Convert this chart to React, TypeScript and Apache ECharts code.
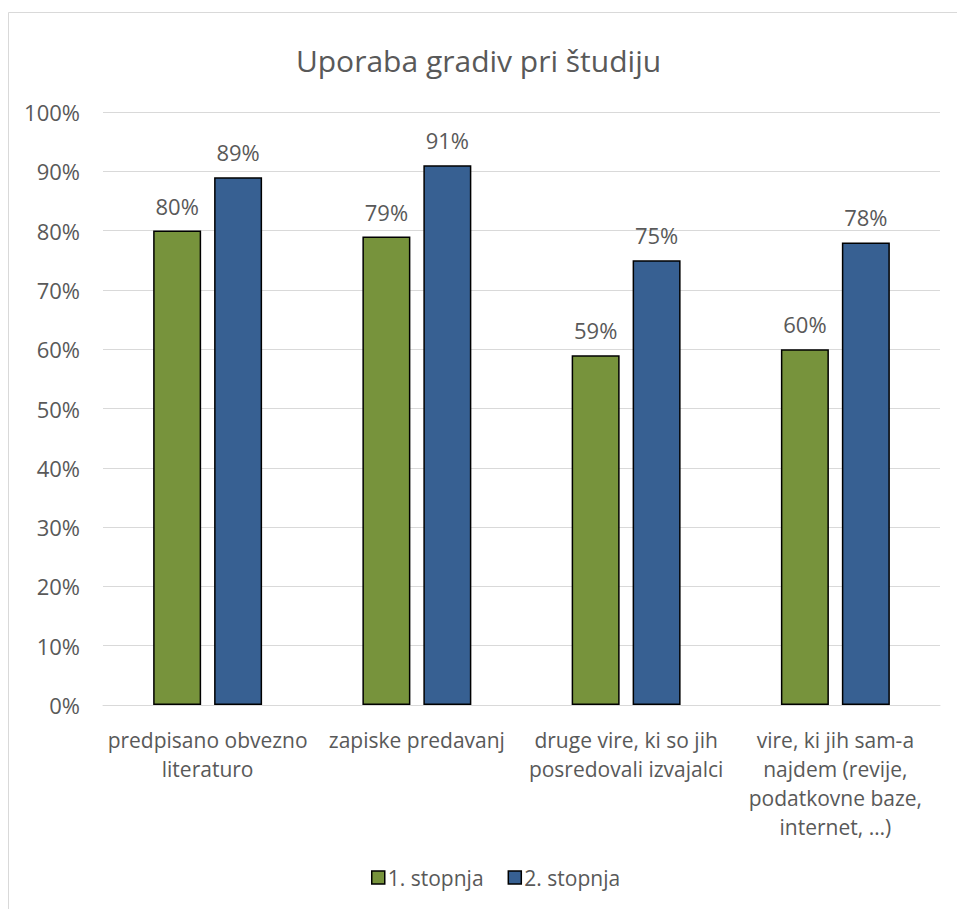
import React, { useEffect, useRef } from "react";
import * as echarts from "echarts";

const titleText = "Uporaba gradiv pri študiju";
const categories = [
  "predpisano obvezno\nliteraturo",
  "zapiske predavanj",
  "druge vire, ki so jih\nposredovali izvajalci",
  "vire, ki jih sam-a\nnajdem (revije,\npodatkovne baze,\ninternet, …)",
];
const seriesNames = ["1. stopnja", "2. stopnja"];
const stopnja1 = [0.8, 0.79, 0.59, 0.6];
const stopnja2 = [0.89, 0.91, 0.75, 0.78];
const colors = ["#77933C", "#376092"];

const FONT = "'Open Sans', 'Noto Sans', sans-serif";
const TEXT = "#595959";

export default function App() {
  const ref = useRef<HTMLDivElement>(null);
  useEffect(() => {
    document.body.style.margin = "0";
    if (!ref.current) return;
    const chart = echarts.init(ref.current, null, { renderer: "svg" });
    const pct = (v: number) => Math.round(v * 100) + "%";
    chart.setOption({
      animation: false,
      backgroundColor: "#ffffff",
      textStyle: { fontFamily: FONT },
      title: {
        text: titleText,
        left: "center",
        top: 40,
        textStyle: { fontFamily: FONT, fontSize: 30, fontWeight: "normal", color: TEXT },
      },
      graphic: [
        {
          type: "rect",
          shape: { x: 8.5, y: 12.5, width: 980, height: 940 },
          style: { fill: "none", stroke: "#d9d9d9", lineWidth: 1 },
          silent: true,
        },
      ],
      grid: { left: 103, right: 17, top: 112, bottom: 204 },
      legend: {
        data: seriesNames,
        top: 862,
        left: 366,
        icon: "rect",
        itemWidth: 13,
        itemHeight: 13,
        itemGap: 24,
        textStyle: { fontFamily: FONT, fontSize: 21, color: TEXT, padding: [0, 0, 0, -2] },
        itemStyle: { borderColor: "#000", borderWidth: 1.5 },
      },
      xAxis: {
        type: "category",
        data: categories,
        axisLine: { show: true, lineStyle: { color: "#d9d9d9", width: 1 } },
        axisTick: { show: false },
        axisLabel: {
          interval: 0,
          fontFamily: FONT,
          fontSize: 21,
          color: TEXT,
          lineHeight: 29,
          margin: 20,
        },
      },
      yAxis: {
        type: "value",
        min: 0,
        max: 1,
        interval: 0.1,
        axisLine: { show: false },
        axisTick: { show: false },
        splitLine: { lineStyle: { color: "#d9d9d9", width: 1 } },
        axisLabel: {
          formatter: (v: number) => pct(v),
          fontFamily: FONT,
          fontSize: 22,
          color: TEXT,
          margin: 23,
        },
      },
      series: [stopnja1, stopnja2].map((d, i) => ({
        name: seriesNames[i],
        type: "bar",
        data: d,
        barWidth: 48,
        barGap: "27%",
        itemStyle: { color: colors[i], borderColor: "#000", borderWidth: 1.5 },
        label: {
          show: true,
          position: "top",
          distance: 14,
          formatter: (p: any) => pct(p.value),
          fontFamily: FONT,
          fontSize: 22,
          color: TEXT,
        },
      })),
    });
    return () => chart.dispose();
  }, []);
  return <div ref={ref} style={{ width: 957, height: 909 }} />;
}
